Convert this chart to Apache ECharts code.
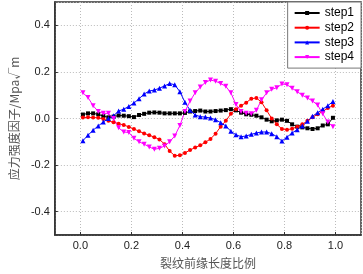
<!DOCTYPE html>
<html>
<head>
<meta charset="utf-8">
<script src="https://cdn.jsdelivr.net/npm/echarts@6/dist/echarts.min.js"></script>
<style>
  html, body { margin: 0; padding: 0; background: #fff; }
  #chart { width: 363px; height: 274px; }
</style>
</head>
<body>
<div id="chart"></div>
<script>
// 裂纹前缘长度比例
const xs = [0.01, 0.03, 0.05, 0.07, 0.09, 0.11, 0.13, 0.15, 0.17, 0.19,
  0.21, 0.23, 0.25, 0.27, 0.29, 0.31, 0.33, 0.35, 0.37, 0.39,
  0.41, 0.43, 0.45, 0.47, 0.49, 0.51, 0.53, 0.55, 0.57, 0.59,
  0.61, 0.63, 0.65, 0.67, 0.69, 0.71, 0.73, 0.75, 0.77, 0.79,
  0.81, 0.83, 0.85, 0.87, 0.89, 0.91, 0.93, 0.95, 0.97, 0.99];

const step1 = [0.017, 0.022, 0.022, 0.018, 0.010, 0.005, 0.008, 0.013, 0.012, 0.010,
  0.006, 0.015, 0.020, 0.025, 0.026, 0.025, 0.022, 0.022, 0.022, 0.022,
  0.024, 0.030, 0.032, 0.034, 0.030, 0.030, 0.032, 0.034, 0.036, 0.040,
  0.035, 0.025, 0.018, 0.016, 0.012, 0.005, -0.005, -0.012, -0.008, -0.005,
  -0.010, -0.025, -0.035, -0.038, -0.042, -0.045, -0.042, -0.030, -0.025, 0.003];

const step2 = [0.004, 0.005, 0.004, 0.003, -0.002, -0.010, -0.016, -0.022, -0.028, -0.036,
  -0.045, -0.055, -0.064, -0.072, -0.080, -0.090, -0.110, -0.140, -0.160, -0.158,
  -0.148, -0.135, -0.125, -0.115, -0.102, -0.088, -0.065, -0.035, -0.010, 0.020,
  0.040, 0.055, 0.068, 0.085, 0.088, 0.070, 0.035, 0.000, -0.025, -0.045,
  -0.048, -0.044, -0.035, -0.025, -0.010, 0.005, 0.018, 0.030, 0.045, 0.055];

const step3 = [-0.095, -0.072, -0.050, -0.032, -0.015, 0.000, 0.012, 0.032, 0.040, 0.052,
  0.066, 0.085, 0.105, 0.118, 0.122, 0.130, 0.140, 0.150, 0.145, 0.115,
  0.070, 0.035, 0.015, 0.008, 0.006, 0.002, -0.005, -0.018, -0.032, -0.055,
  -0.070, -0.078, -0.075, -0.068, -0.062, -0.058, -0.058, -0.065, -0.078, -0.097,
  -0.080, -0.062, -0.048, -0.032, -0.012, 0.010, 0.025, 0.040, 0.055, 0.073];

const step4 = [0.110, 0.090, 0.055, 0.030, 0.022, 0.022, 0.000, -0.040, -0.058, -0.060,
  -0.085, -0.100, -0.110, -0.122, -0.132, -0.128, -0.118, -0.100, -0.075, -0.030,
  0.030, 0.075, 0.110, 0.135, 0.155, 0.165, 0.160, 0.150, 0.138, 0.110,
  0.060, 0.030, 0.022, 0.020, 0.035, 0.080, 0.110, 0.125, 0.132, 0.148,
  0.145, 0.130, 0.115, 0.100, 0.088, 0.075, 0.058, 0.020, -0.015, -0.035];

const seriesNames = ['step1', 'step2', 'step3', 'step4'];
const seriesColors = ['#000000', '#ff0000', '#0000ff', '#ff00ff'];
const seriesSymbols = ['rect', 'circle', 'triangle', 'path://M0,0 L10,0 L5,9 Z'];
const seriesSizes = [4, 4, 5, 5];
const seriesData = [step1, step2, step3, step4];

const chart = echarts.init(document.getElementById('chart'));

const axisText = { color: '#222', fontSize: 11, fontFamily: 'Liberation Sans, Arial, sans-serif' };
const nameText = { color: '#555', fontSize: 12, fontFamily: 'Noto Sans CJK SC, sans-serif' };
const dotted = { show: true, lineStyle: { color: '#bbb', type: [1, 2], width: 1 } };

const option = {
  animation: false,
  grid: {
    left: 43, right: 2, top: 2, bottom: 36,
    show: true, borderColor: '#333', borderWidth: 1.5
  },
  legend: {
    data: seriesNames,
    orient: 'vertical',
    top: 2,
    right: 2,
    itemWidth: 25,
    itemHeight: 5,
    itemGap: 0.7,
    padding: [4, 7, 4, 6],
    backgroundColor: '#fff',
    borderColor: '#777',
    borderWidth: 1,
    textStyle: { color: '#000', fontSize: 12, lineHeight: 14,
      fontFamily: 'Liberation Sans, Arial, sans-serif' }
  },
  xAxis: {
    type: 'value',
    min: -0.1,
    max: 1.1,
    splitNumber: 6,
    name: '裂纹前缘长度比例',
    nameLocation: 'middle',
    nameGap: 22,
    nameTextStyle: nameText,
    axisLine: { onZero: false, lineStyle: { color: '#333', width: 1.5 } },
    axisTick: { inside: true, length: 3, lineStyle: { color: '#333' } },
    axisLabel: Object.assign({ margin: 5, showMinLabel: false, showMaxLabel: false,
      formatter: v => v.toFixed(1) }, axisText),
    splitLine: dotted
  },
  yAxis: {
    type: 'value',
    min: -0.5,
    max: 0.5,
    splitNumber: 5,
    name: '应力强度因子/Mpa√m',
    nameLocation: 'middle',
    nameGap: 31,
    nameRotate: 90,
    nameTextStyle: nameText,
    axisLine: { onZero: false, lineStyle: { color: '#333', width: 1.5 } },
    axisTick: { inside: true, length: 3, lineStyle: { color: '#333' } },
    axisLabel: Object.assign({ margin: 5, showMinLabel: false, showMaxLabel: false,
      formatter: v => v.toFixed(1) }, axisText),
    splitLine: dotted
  },
  series: seriesNames.map((name, i) => ({
    name: name,
    type: 'line',
    data: xs.map((x, k) => [x, seriesData[i][k]]),
    color: seriesColors[i],
    symbol: seriesSymbols[i],
    symbolSize: seriesSizes[i],
    showAllSymbol: true,
    lineStyle: { width: 1, color: seriesColors[i] },
    itemStyle: { color: seriesColors[i] }
  }))
};

chart.setOption(option);
</script>
</body>
</html>
